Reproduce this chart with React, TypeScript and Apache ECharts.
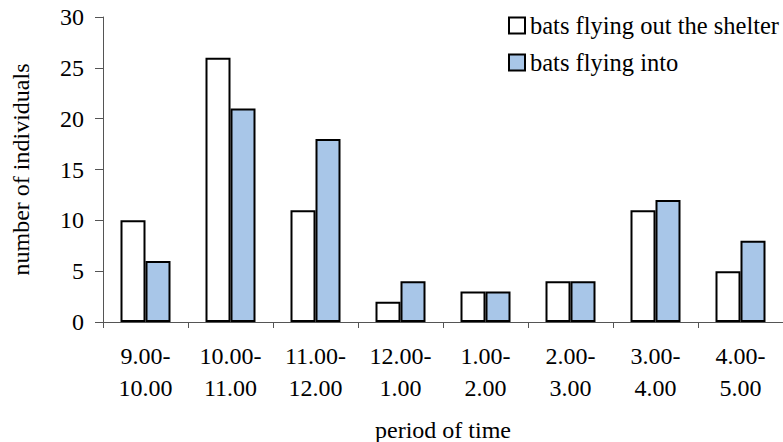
import React, { useEffect, useRef } from "react";
import * as echarts from "echarts";

const categories = ["9.00-\n10.00", "10.00-\n11.00", "11.00-\n12.00", "12.00-\n1.00", "1.00-\n2.00", "2.00-\n3.00", "3.00-\n4.00", "4.00-\n5.00"];
const flyingOut = [10, 26, 11, 2, 3, 4, 11, 5];
const flyingInto = [6, 21, 18, 4, 3, 4, 12, 8];
const yTicks = [0, 5, 10, 15, 20, 25, 30];

const FONT = "Times New Roman, Liberation Serif, DejaVu Serif, serif";

export default function App() {
  const ref = useRef<HTMLDivElement>(null);
  useEffect(() => {
    document.body.style.margin = "0";
    if (!ref.current) return;
    const chart = echarts.init(ref.current, undefined, { renderer: "svg" });
    chart.setOption({
      animation: false,
      backgroundColor: "#ffffff",
      textStyle: { fontFamily: FONT, color: "#000" },
      grid: { left: 103, top: 17, right: 0, bottom: 120, containLabel: false, outerBoundsMode: "none" },
      legend: {
        orient: "vertical",
        left: 503,
        top: 8,
        icon: "rect",
        itemWidth: 16,
        itemHeight: 16,
        itemGap: 12,
        itemTextGap: 5,
        textStyle: { fontFamily: FONT, fontSize: 24.5, color: "#000", lineHeight: 24 },
        data: ["bats flying out the shelter", "bats flying into"],
      },
      xAxis: {
        type: "category",
        data: categories,
        name: "period of time",
        nameLocation: "middle",
        nameGap: 96,
        nameTextStyle: { fontFamily: FONT, fontSize: 24, color: "#000" },
        axisLine: { show: true, lineStyle: { color: "#555", width: 1 } },
        axisTick: { show: true, length: 6, interval: 0, lineStyle: { color: "#555" } },
        axisLabel: { interval: 0, fontFamily: FONT, fontSize: 24, color: "#000", lineHeight: 32, margin: 18 },
      },
      yAxis: {
        type: "value",
        min: yTicks[0],
        max: yTicks[yTicks.length - 1],
        interval: 5,
        name: "number of individuals",
        nameLocation: "middle",
        nameGap: 70,
        nameTextStyle: { fontFamily: FONT, fontSize: 24, color: "#000" },
        splitLine: { show: false },
        axisLine: { show: true, lineStyle: { color: "#555", width: 1 } },
        axisTick: { show: true, length: 8, lineStyle: { color: "#555" } },
        axisLabel: { fontFamily: FONT, fontSize: 24, color: "#000", margin: 19 },
      },
      series: [
        {
          name: "bats flying out the shelter",
          type: "bar",
          data: flyingOut,
          barWidth: 25,
          barGap: "0%",
          itemStyle: { color: "#ffffff", borderColor: "#000", borderWidth: 2, borderJoin: "miter" },
        },
        {
          name: "bats flying into",
          type: "bar",
          data: flyingInto,
          barWidth: 25,
          barGap: "0%",
          itemStyle: { color: "#a8c6e8", borderColor: "#000", borderWidth: 2, borderJoin: "miter" },
        },
      ],
    });
    return () => chart.dispose();
  }, []);
  return <div ref={ref} style={{ width: 783, height: 442 }} />;
}
